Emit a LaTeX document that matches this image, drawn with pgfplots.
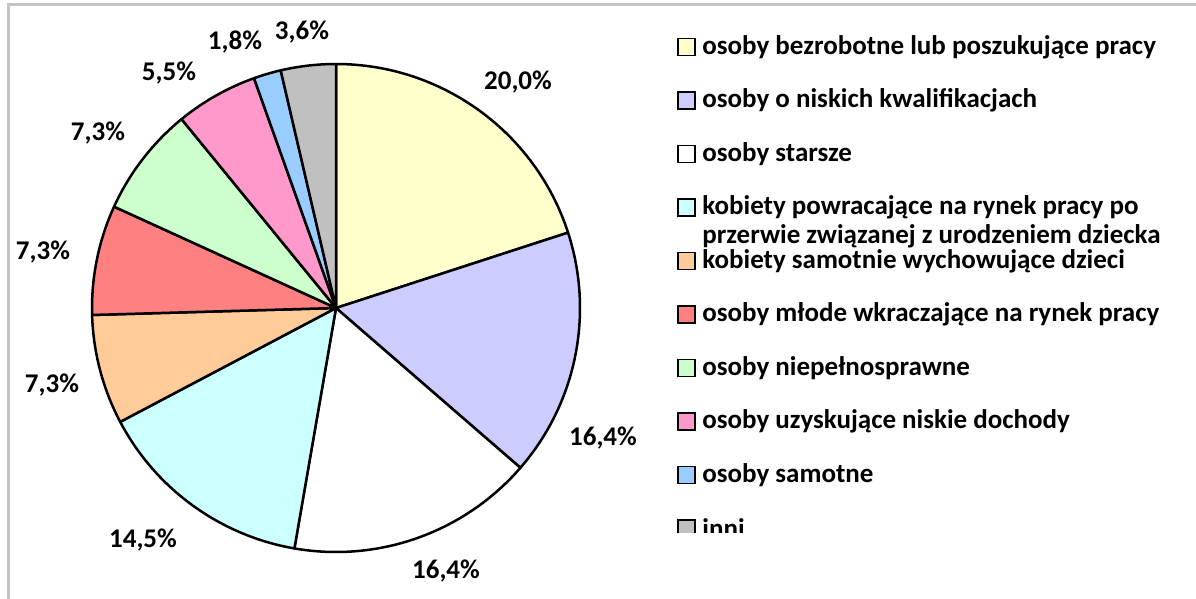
\documentclass[border=0pt]{standalone}
\usepackage{pgfplots}
\usepackage{pgfplotstable}
\usepackage{fontspec}
\setmainfont{Carlito}
\pgfplotsset{compat=1.18}

\definecolor{c1}{HTML}{FFFFCC}
\definecolor{c2}{HTML}{CCCCFF}
\definecolor{c3}{HTML}{FFFFFF}
\definecolor{c4}{HTML}{CCFFFF}
\definecolor{c5}{HTML}{FFCC99}
\definecolor{c6}{HTML}{FF8080}
\definecolor{c7}{HTML}{CCFFCC}
\definecolor{c8}{HTML}{FF99CC}
\definecolor{c9}{HTML}{99CCFF}
\definecolor{c10}{HTML}{C0C0C0}
\definecolor{frame}{HTML}{C4C4C4}

% counts (of 55), label positions in px, fill colour
\pgfplotstableread{
value lx  ly  col
11    518 82  c1
9     603 438 c2
9     446 571 c3
8     143 540 c4
4     52  385 c5
4     43  252 c6
4     98  133 c7
3     169 73  c8
1     235 42  c9
2     302 32  c10
}\piedata

\begin{document}
\begin{tikzpicture}[font=\fontsize{13.5pt}{16pt}\selectfont\bfseries]
\begin{axis}[
  at={(0,0)}, anchor=north west,
  x=0.5pt, y=0.5pt,
  xmin=0, xmax=1196, ymin=0, ymax=599,
  y dir=reverse,
  hide axis, clip=false,
]
\def\cum{0}
\def\total{55}
\def\R{122pt}
\pgfplotsforeachungrouped \i in {0,...,9}{%
  \pgfplotstablegetelem{\i}{value}\of\piedata \let\val\pgfplotsretval
  \pgfplotstablegetelem{\i}{col}\of\piedata \let\col\pgfplotsretval
  \pgfmathsetmacro\angA{90-\cum/\total*360}%
  \pgfmathsetmacro\cum{\cum+\val}%
  \pgfmathsetmacro\angB{90-\cum/\total*360}%
  \edef\slice{\noexpand\draw[line width=1.25pt, fill=\col, line join=round]
    (axis cs:336,308) -- ++(\angA:\R) arc[start angle=\angA, end angle=\angB, radius=\R] -- cycle;}%
  \slice
}
\addplot[only marks, mark=none,
  point meta={\thisrow{value}*100/\total},
  nodes near coords={\pgfmathprintnumber[fixed, fixed zerofill, precision=1, use comma, assume math mode=true]{\pgfplotspointmeta}\%},
  every node near coord/.append style={anchor=center, inner sep=0pt},
] table[x=lx, y=ly] {\piedata};
\end{axis}

% frame and legend, in px of the reference
\begin{scope}[x=0.5pt, y=-0.5pt]
  \draw[frame, line width=1.5pt] (8,599) -- (8,5) -- (1196,5);
  \begin{scope}
    \clip (600,0) rectangle (1196,532);
    \foreach \c/\t [count=\k from 0] in {
      c1/osoby bezrobotne lub poszukujące pracy,
      c2/osoby o niskich kwalifikacjach,
      c3/osoby starsze,
      c4/kobiety powracające na rynek pracy po,
      c5/kobiety samotnie wychowujące dzieci,
      c6/osoby młode wkraczające na rynek pracy,
      c7/osoby niepełnosprawne,
      c8/osoby uzyskujące niskie dochody,
      c9/osoby samotne,
      c10/inni}{
      \pgfmathsetmacro\yy{47+53.5*\k}
      \draw[fill=\c, line width=0.9pt] (678,\yy-8.5) rectangle (695,\yy+8.5);
      \node[anchor=west, inner sep=0pt] at (702,\yy) {\t};
    }
    \node[anchor=west, inner sep=0pt] at (702,236) {przerwie związanej z urodzeniem dziecka};
  \end{scope}
\end{scope}
\pgfresetboundingbox
\path (0,0) rectangle (598pt,-299.5pt);
\end{tikzpicture}
\end{document}
